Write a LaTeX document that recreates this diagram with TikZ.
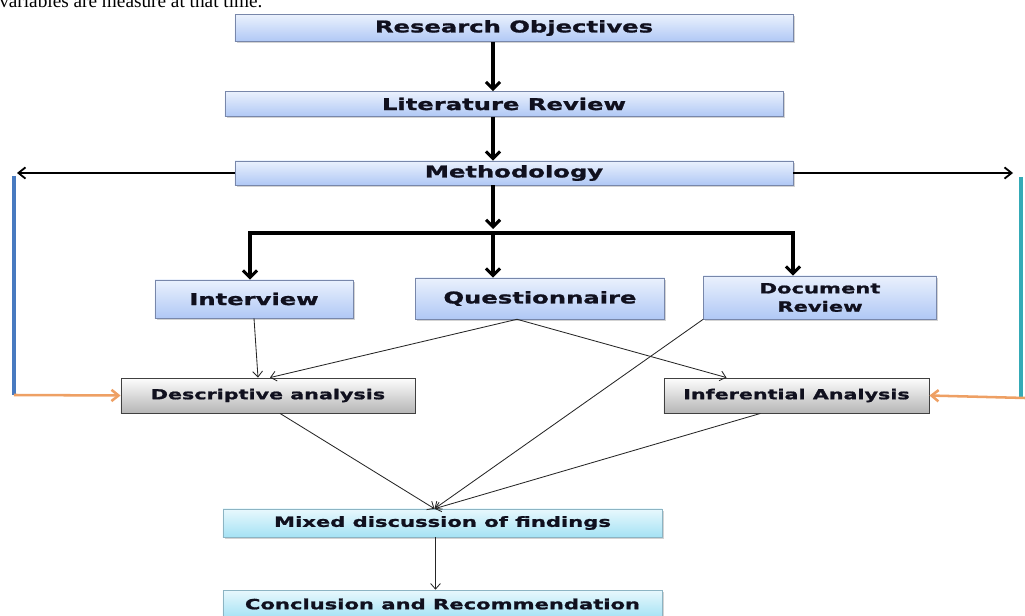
\documentclass[tikz,border=0pt]{standalone}
\usepackage{fontspec}
\usetikzlibrary{arrows.meta,calc,shadows}
\newfontfamily\boxfont[FakeStretch=1.5,FakeBold=1.3]{DejaVu Sans}
\newfontfamily\capfont{Liberation Serif}
\definecolor{bluetop}{RGB}{234,241,253}
\definecolor{bluebot}{RGB}{176,200,245}
\definecolor{blueedge}{RGB}{120,135,170}
\definecolor{cyantop}{RGB}{232,248,253}
\definecolor{cyanbot}{RGB}{165,226,244}
\definecolor{cyanedge}{RGB}{140,180,195}
\definecolor{greytop}{RGB}{253,253,253}
\definecolor{greybot}{RGB}{182,182,182}
\definecolor{inkblue}{RGB}{16,16,30}
\definecolor{loopblue}{RGB}{72,122,192}
\definecolor{loopteal}{RGB}{52,170,182}
\definecolor{looporange}{RGB}{238,160,100}

\tikzset{
  bluebox/.style={draw=blueedge, line width=0.4pt, top color=bluetop, bottom color=bluebot,
    inner sep=0pt, text=inkblue, font=\boxfont\bfseries\fontsize{11.5}{13}\selectfont,
    drop shadow={shadow xshift=1.2pt, shadow yshift=-1.2pt, opacity=0.35}},
  cyanbox/.style={bluebox, draw=cyanedge, top color=cyantop, bottom color=cyanbot,
    font=\boxfont\bfseries\fontsize{10}{12}\selectfont},
  greybox/.style={draw=black!75, line width=0.6pt, top color=greytop, bottom color=greybot,
    inner sep=0pt, text=inkblue, font=\boxfont\bfseries\fontsize{9.8}{12}\selectfont,
    drop shadow={shadow xshift=1pt, shadow yshift=-1pt, opacity=0.3}},
  thickarrow/.style={line width=2.2pt, -{Straight Barb[length=5pt,width=10pt]}},
  thinarrow/.style={line width=0.6pt, draw=black!85, -{Straight Barb[length=4pt,width=7pt]}},
  looparrow/.style={line width=1.3pt, -{Straight Barb[length=5pt,width=8pt]}}
}

\begin{document}
\begin{tikzpicture}[x=0.025cm, y=-0.025cm]
    \useasboundingbox (0,0) rectangle (1025,616);
    \node[anchor=base west, inner sep=0pt, font=\capfont\fontsize{13.7}{16}\selectfont] (caption) at (-1,8) {variables are measure at that time.};

    % boxes
    \node[bluebox, minimum width=13.95cm, minimum height=0.675cm] (resobj) at (514,28) {Research Objectives};
    \node[bluebox, minimum width=13.95cm, minimum height=0.625cm] (litrev) at (504,104) {Literature Review};
    \node[bluebox, minimum width=13.95cm, minimum height=0.6cm] (method) at (514,173) {Methodology};
    \node[bluebox, minimum width=4.95cm, minimum height=0.95cm] (interview) at (254,299) {Interview};
    \node[bluebox, minimum width=6.225cm, minimum height=1.025cm] (quest) at (540,298.5) {Questionnaire};
    \node[bluebox, minimum width=5.825cm, minimum height=1.075cm, align=center,
          font=\boxfont\bfseries\fontsize{10}{13}\selectfont] (docrev) at (820,297.5) {Document\\Review};
    \node[greybox, minimum width=7.35cm, minimum height=0.875cm] (descr) at (268,395.5) {Descriptive analysis};
    \node[greybox, minimum width=6.625cm, minimum height=0.875cm] (infer) at (796.5,395.5) {Inferential Analysis};
    \node[cyanbox, minimum width=10.975cm, minimum height=0.7cm] (mixed) at (442.5,523) {Mixed discussion of findings};
    \node[cyanbox, minimum width=10.975cm, minimum height=0.7cm] (concl) at (442.5,604) {Conclusion and Recommendation};

    % spine and branches
    \coordinate (spine) at (493,0);
    \coordinate (midtip) at (493,229);
    \coordinate (branchL) at (250,233);
    \coordinate (branchR) at (793,233);
    \draw[thickarrow] (resobj.south -| spine) -- (litrev.north -| spine);
    \draw[thickarrow] (litrev.south -| spine) -- (method.north -| spine);
    \draw[thickarrow] (method.south -| spine) -- (midtip);
    \draw[thickarrow] (branchL -| spine) -- (quest.north -| spine);
    \draw[line width=2.2pt, {Straight Barb[length=5pt,width=10pt]}-{Straight Barb[length=5pt,width=10pt]}]
        (interview.north -| branchL) -- (branchL) -- (branchR) -- (docrev.north -| branchR);

    % feedback loops
    \coordinate (leftend) at (17,173);
    \coordinate (lefttop) at (14,176);
    \coordinate (leftbot) at (14,395);
    \coordinate (rightend) at (1013,173);
    \coordinate (righttop) at (1021,177);
    \coordinate (rightbot) at (1021,399);
    \coordinate (rightin) at (1025,398);
    \draw[looparrow] (method.west) -- (leftend);
    \draw[looparrow] (method.east) -- (rightend);
    \draw[loopblue, line width=3pt] (lefttop) -- (leftbot);
    \draw[loopteal, line width=3pt] (righttop) -- (rightbot);
    \draw[looparrow, looporange, line width=1.8pt] (leftbot) -- (descr.west);
    \draw[looparrow, looporange, line width=1.8pt] (rightin) -- (infer.east);

    % analysis links
    \coordinate (qsrc) at ($(quest.south)+(-23,0)$);
    \coordinate (meet) at ($(mixed.north)+(-8,0)$);
    \draw[thinarrow] (interview.south) -- ($(descr.north)+(-10,0)$);
    \draw[thinarrow] (qsrc) -- ($(descr.north)+(2,0)$);
    \draw[thinarrow] (qsrc) -- ($(infer.north)+(-70,0)$);
    \draw[thinarrow] (docrev.south west) -- (meet);
    \draw[thinarrow] ($(descr.south)+(12,0)$) -- (meet);
    \draw[thinarrow] ($(infer.south)+(-36,0)$) -- (meet);
    \draw[thinarrow] ($(mixed.south)+(-7,0)$) -- ($(concl.north)+(-7,0)$);
\end{tikzpicture}
\end{document}
